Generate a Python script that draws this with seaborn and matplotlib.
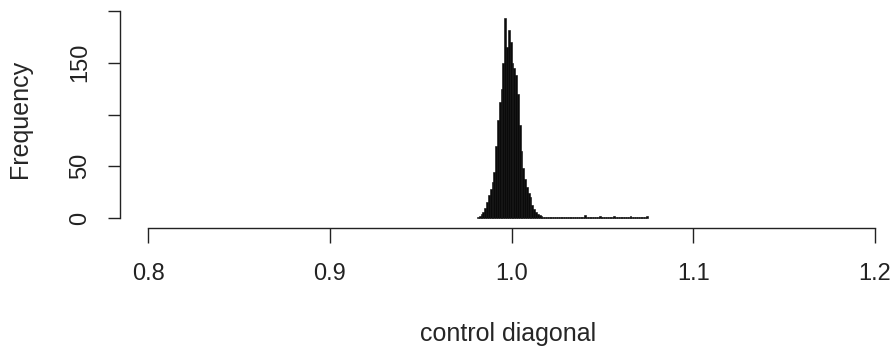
import numpy as np
import pandas as pd
import matplotlib
matplotlib.use("Agg")
import matplotlib.pyplot as plt
import seaborn as sns

# histogram of control diagonal values, bins of width 0.001 starting at 0.981
bin_start = 0.981
bin_width = 0.001
counts = [
    1, 2, 4, 6, 10, 15, 22, 28, 35, 44,            # 0.981 - 0.990
    70, 95, 112, 125, 150, 193, 165, 182, 170, 150,  # 0.991 - 1.000
    145, 138, 120, 90, 65, 48, 38, 30, 24, 20,      # 1.001 - 1.010
    13, 9, 6, 4, 3, 2, 1,                           # 1.011 - 1.017
    1, 1, 1, 1, 1, 1, 1, 1, 1, 1, 1, 1, 1, 1, 1, 1, 1, 1, 1, 1, 1, 1,
    3, 1, 1, 1, 1, 1, 1, 1, 2, 1, 1, 1, 1, 1, 1, 1, 2, 1, 1, 1, 1, 1,
    1, 1, 1, 2, 1, 1, 1, 1, 1, 1, 1, 1, 2,
]
x_ticks = [0.8, 0.9, 1.0, 1.1, 1.2]
x_tick_labels = ["0.8", "0.9", "1.0", "1.1", "1.2"]
y_ticks = [0, 50, 100, 150, 200]
y_tick_labels = ["0", "50", "", "150", ""]

edges = [bin_start + bin_width * i for i in range(len(counts) + 1)]
df = pd.DataFrame({
    "diag": [(edges[i] + edges[i + 1]) / 2 for i in range(len(counts))],
    "n": counts,
})

sns.set_style("ticks")
plt.rcParams['font.family'] = ['Liberation Sans', 'DejaVu Sans']

W, H = 896, 351
fig = plt.figure(figsize=(W / 100, H / 100), dpi=100)
# axes box in pixels: left 120, right 896, top 10, bottom 228
ax = fig.add_axes([120 / W, (H - 228) / H, (896 - 120) / W, (228 - 10) / H])

sns.histplot(data=df, x="diag", weights="n", bins=edges, color="#0a0a0a",
             alpha=1, edgecolor="#0a0a0a", linewidth=0.4, ax=ax)

ax.set_xlim(0.8 - 28 / 1817.5, 1.2 + 21 / 1817.5)
ax.set_ylim(-10 / 1.035, 200 + 1 / 1.035)

ax.spines["top"].set_visible(False)
ax.spines["right"].set_visible(False)
ax.spines["bottom"].set_bounds(0.8, 1.2)
ax.spines["left"].set_bounds(0, 200)
for s in ("bottom", "left"):
    ax.spines[s].set_linewidth(1.0)
    ax.spines[s].set_color("#222222")

ax.set_xticks(x_ticks)
ax.set_xticklabels(x_tick_labels)
ax.set_yticks(y_ticks)
ax.set_yticklabels(y_tick_labels, rotation=90, va="center")
ax.tick_params(axis="x", length=10.5, width=1.0, pad=15, labelsize=17, colors="#222222")
ax.tick_params(axis="y", length=8.6, width=1.0, pad=12, labelsize=17, colors="#222222")

ax.set_xlabel("control diagonal", fontsize=18, labelpad=26)
ax.set_ylabel("Frequency", fontsize=18, labelpad=27)

fig.savefig("out.png", dpi=100)
